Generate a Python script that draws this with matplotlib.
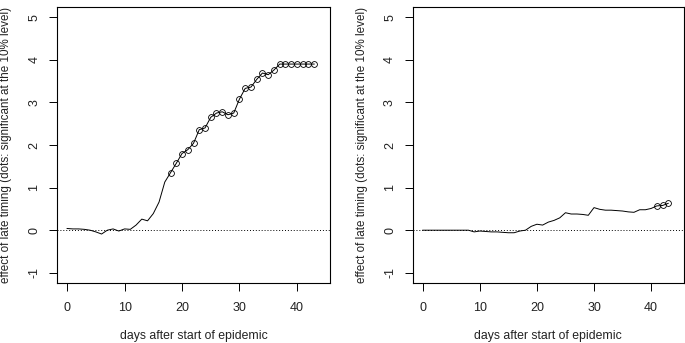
import matplotlib
matplotlib.use("Agg")
import matplotlib.pyplot as plt

plt.rcParams["font.family"] = ["Liberation Sans", "DejaVu Sans"]

days = list(range(0, 44))

# left panel: effect of late timing, full sample
effect_left = [0.04, 0.03, 0.03, 0.02, 0.00, -0.04, -0.09, 0.00, 0.03, -0.02,
               0.03, 0.02, 0.12, 0.26, 0.22, 0.39, 0.66, 1.13, 1.35, 1.57,
               1.80, 1.89, 2.04, 2.36, 2.40, 2.65, 2.75, 2.78, 2.71, 2.75,
               3.08, 3.33, 3.36, 3.54, 3.69, 3.65, 3.76, 3.90, 3.90, 3.90,
               3.90, 3.90, 3.90, 3.90]
signif_left = [d >= 18 for d in days]

# right panel
effect_right = [0.0, 0.0, 0.0, 0.0, 0.0, 0.0, 0.0, 0.0, 0.0, -0.04,
                -0.02, -0.03, -0.04, -0.04, -0.05, -0.06, -0.06, -0.02, 0.0, 0.09,
                0.14, 0.12, 0.19, 0.23, 0.29, 0.41, 0.38, 0.38, 0.37, 0.35,
                0.53, 0.49, 0.47, 0.47, 0.46, 0.45, 0.43, 0.42, 0.48, 0.48,
                0.51, 0.57, 0.58, 0.63]
signif_right = [d >= 41 for d in days]

xticks = [0, 10, 20, 30, 40]
yticks = [-1, 0, 1, 2, 3, 4, 5]
xlab = "days after start of epidemic"
ylab = "effect of late timing (dots: significant at the 10% level)"

fig = plt.figure(figsize=(6.85, 3.43), dpi=100)
ax1 = fig.add_axes([0.0832, 0.1749, 0.3986, 0.8047])
ax2 = fig.add_axes([0.6025, 0.1749, 0.3960, 0.8047])

panels = [(ax1, effect_left, signif_left, -0.166),
          (ax2, effect_right, signif_right, -0.166)]
for ax, vals, sig, labx in panels:
    ax.axhline(0, color="black", linestyle=(0, (1, 2)), linewidth=0.7)
    ax.plot(days, vals, color="black", linewidth=0.7)
    sx = [d for d, s in zip(days, sig) if s]
    sy = [v for v, s in zip(vals, sig) if s]
    ax.plot(sx, sy, linestyle="none", marker="o", markersize=4.2,
            markerfacecolor="none", markeredgecolor="black", markeredgewidth=0.6)
    ax.set_xlim(-1.76, 45.76)
    ax.set_ylim(-1.24, 5.24)
    ax.set_xticks(xticks)
    ax.set_yticks(yticks)
    ax.set_yticklabels([str(v) for v in yticks], rotation=90, va="center")
    ax.tick_params(direction="out", length=6, width=0.7, labelsize=9,
                   colors="black", labelcolor="#222222", pad=6)
    ax.tick_params(axis="x", pad=8)
    for sp in ax.spines.values():
        sp.set_linewidth(0.8)
    ax.set_xlabel(xlab, fontsize=8.8, color="#222222")
    ax.set_ylabel(ylab, fontsize=8.4, color="#222222")
    ax.xaxis.set_label_coords(0.5, -0.17)
    ax.yaxis.set_label_coords(labx, 0.5)

fig.savefig("out.png", dpi=100)
